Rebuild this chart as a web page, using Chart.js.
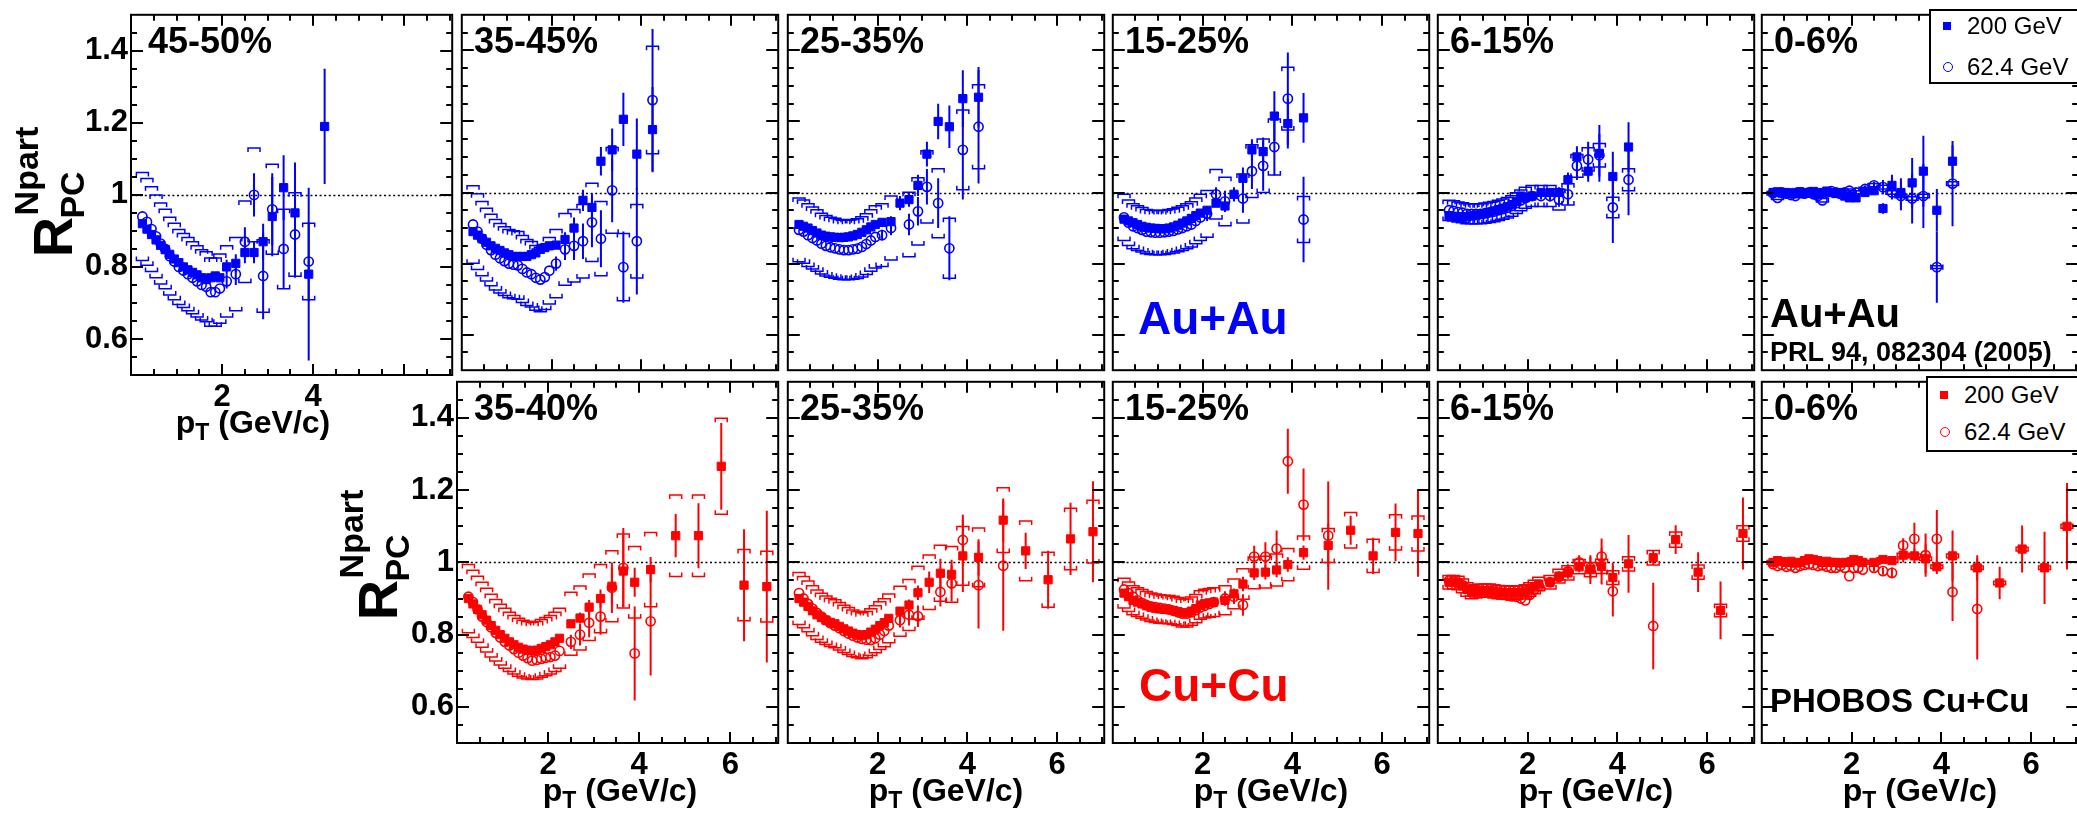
<!DOCTYPE html>
<html>
<head>
<meta charset="utf-8">
<title>PHOBOS R_PC Npart</title>
<script src="https://cdn.jsdelivr.net/npm/chart.js@4.4.0/dist/chart.umd.min.js"></script>
<style>
  body { margin: 0; width: 2077px; height: 817px; overflow: hidden; position: relative; background: #fff;
         font-family: "Liberation Sans", Arial, Helvetica, sans-serif; }
  canvas { position: absolute; }
  .txt { position: absolute; font-weight: bold; line-height: 1; white-space: nowrap; transform: translateY(-50%); }
  .ctr { position: absolute; font-weight: bold; line-height: 1; white-space: nowrap; transform: translate(-50%, -50%); }
  .rot { position: absolute; font-weight: bold; line-height: 1; white-space: nowrap; transform: translate(-50%, -50%) rotate(-90deg); }
  .ctr sub { font-size: 0.72em; vertical-align: -0.32em; line-height: 0; }
  .legend { position: absolute; border: 2px solid #000; background: #fff; box-sizing: border-box; }
  .leg { position: absolute; font-size: 24px; line-height: 1; white-space: nowrap; transform: translateY(-50%); }
  .mk { position: absolute; box-sizing: border-box; transform: translate(-50%, -50%); }
</style>
</head>
<body>
<script>
// ---- data ----
const ptAu = [0.25, 0.35, 0.45, 0.55, 0.65, 0.75, 0.85, 0.95, 1.05, 1.15, 1.25, 1.35, 1.45, 1.55, 1.65, 1.75, 1.85, 1.95,
              2.1, 2.3, 2.5, 2.7, 2.9, 3.1, 3.35, 3.6, 3.9, 4.25];
const ptCu = [0.25, 0.35, 0.45, 0.55, 0.65, 0.75, 0.85, 0.95, 1.05, 1.15, 1.25, 1.35, 1.45, 1.55, 1.65, 1.75, 1.85, 1.95, 2.05, 2.15, 2.25,
              2.5, 2.7, 2.9, 3.15, 3.4, 3.65, 3.9, 4.25, 4.8, 5.3, 5.8, 6.3, 6.8];
const auStatFrom = 18;   // stat. errors are listed from this pT bin on
const cuStatFrom = 21;

const centAu = ['45-50%', '35-45%', '25-35%', '15-25%', '6-15%', '0-6%'];
const centCu = ['35-40%', '25-35%', '15-25%', '6-15%', '0-6%'];
const energies = ['200 GeV', '62.4 GeV'];
const yTickVals = [0.6, 0.8, 1, 1.2, 1.4];
const xTickVals = [2, 4, 6];
const xTickValsCorner = [2, 4];

// systematic (bracket) fractions
const sysAu62 = [0.13, 0.12, 0.10, 0.07, 0.03, 0.005];
const sysCu200 = [0.105, 0.08, 0.045, 0.02, 0.005];

// Au+Au 200 GeV
const au200_4550 = [0.92, 0.905, 0.89, 0.875, 0.86, 0.848, 0.835, 0.822, 0.812, 0.80, 0.792, 0.785, 0.778, 0.77, 0.765, 0.77, 0.775, 0.77,
                    0.80, 0.81, 0.84, 0.84, 0.87, 0.94, 1.02, 0.95, 0.78, 1.19];
const au200_3545 = [0.89, 0.88, 0.87, 0.86, 0.85, 0.843, 0.837, 0.83, 0.825, 0.82, 0.82, 0.82, 0.82, 0.825, 0.83, 0.84, 0.845, 0.85,
                    0.852, 0.868, 0.90, 0.978, 0.958, 1.088, 1.12, 1.206, 1.108, 1.177];
const au200_2535 = [0.91, 0.905, 0.90, 0.893, 0.886, 0.88, 0.877, 0.875, 0.874, 0.873, 0.874, 0.875, 0.878, 0.882, 0.888, 0.895, 0.903, 0.91,
                    0.916, 0.918, 0.97, 0.98, 1.02, 1.108, 1.2, 1.185, 1.264, 1.268];
const au200_1525 = [0.925, 0.92, 0.915, 0.91, 0.905, 0.902, 0.90, 0.899, 0.898, 0.898, 0.90, 0.903, 0.908, 0.914, 0.92, 0.927, 0.935, 0.942,
                    0.95, 0.97, 0.962, 0.995, 1.04, 1.12, 1.115, 1.215, 1.194, 1.21];
const au200_0615 = [0.935, 0.933, 0.932, 0.93, 0.932, 0.934, 0.936, 0.938, 0.94, 0.944, 0.948, 0.952, 0.956, 0.96, 0.966, 0.975, 0.99, 0.985,
                    0.99, 1.0, 1.0, 1.0, 1.036, 1.1, 1.06, 1.11, 1.045, 1.128];
const au200_0006 = [1.0, 1.002, 0.998, 1.0, 0.997, 1.0, 1.002, 0.998, 1.0, 1.003, 0.998, 1.0, 1.004, 1.0, 0.997, 1.0, 0.99, 0.985,
                    0.985, 1.0, 1.005, 0.955, 1.02, 1.0, 1.027, 1.06, 0.95, 1.088];
const au200Err_4550 = [0.02, 0.025, 0.03, 0.03, 0.05, 0.11, 0.09, 0.14, 0.24, 0.16];
const au200Err_3545 = [0.01, 0.02, 0.03, 0.03, 0.04, 0.04, 0.06, 0.075, 0.1, 0.12];
const au200Err_2535 = [0.01, 0.015, 0.02, 0.02, 0.03, 0.035, 0.05, 0.06, 0.08, 0.085];
const au200Err_1525 = [0.01, 0.01, 0.015, 0.02, 0.03, 0.03, 0.04, 0.07, 0.07, 0.07];
const au200Err_0615 = [0.01, 0.01, 0.01, 0.015, 0.02, 0.03, 0.03, 0.08, 0.07, 0.07];
const au200Err_0006 = [0.005, 0.005, 0.01, 0.015, 0.03, 0.04, 0.07, 0.1, 0.06, 0.045];

// Au+Au 62.4 GeV
const au62_4550 = [0.94, 0.925, 0.905, 0.885, 0.865, 0.85, 0.83, 0.815, 0.80, 0.79, 0.78, 0.77, 0.76, 0.75, 0.745, 0.73, 0.73, 0.74,
                   0.76, 0.78, 0.87, 1.0, 0.775, 0.96, 0.85, 0.89, 0.815, null];
const au62_3545 = [0.91, 0.89, 0.87, 0.853, 0.838, 0.825, 0.815, 0.807, 0.80, 0.797, 0.795, 0.785, 0.775, 0.77, 0.76, 0.755, 0.762, 0.78,
                   0.80, 0.84, 0.85, 0.863, 0.916, 0.87, 1.006, 0.79, 0.863, 1.26];
const au62_2535 = [0.895, 0.89, 0.88, 0.872, 0.865, 0.856, 0.85, 0.846, 0.843, 0.84, 0.838, 0.838, 0.84, 0.842, 0.847, 0.855, 0.865, 0.875,
                   0.88, 0.90, null, 0.91, 0.947, 1.016, 0.97, 0.843, 1.12, 1.185];
const au62_1525 = [0.93, 0.915, 0.905, 0.90, 0.895, 0.89, 0.888, 0.887, 0.887, 0.888, 0.89, 0.892, 0.896, 0.90, 0.905, 0.91, 0.92, 0.93,
                   0.94, 0.995, 0.975, null, 0.983, 1.06, 1.075, 1.128, 1.264, 0.924];
const au62_0615 = [0.95, 0.948, 0.945, 0.943, 0.94, 0.94, 0.94, 0.94, 0.942, 0.944, 0.946, 0.95, 0.953, 0.957, 0.962, 0.97, 0.978, 0.985,
                   0.99, 0.99, 0.99, 0.98, 0.995, 1.075, 1.093, 1.105, 0.958, 1.036];
const au62_0006 = [0.998, 0.985, 1.0, 0.997, 0.993, 0.99, 1.0, 0.997, 1.0, 0.995, 0.99, 0.978, 1.0, 1.004, 1.0, 0.996, 1.0, 1.005,
                   1.0, 1.01, 1.02, 1.015, 1.0, 0.99, 0.983, 0.99, 0.79, 1.025];
const au62Err_4550 = [0.02, 0.03, 0.04, 0.06, 0.12, 0.1, 0.11, 0.12, 0.11, 0];
const au62Err_3545 = [0.02, 0.03, 0.04, 0.05, 0.07, 0.08, 0.09, 0.1, 0.15, 0.2];
const au62Err_2535 = [0.015, 0.02, 0, 0.03, 0.04, 0.05, 0.07, 0.09, 0.14, 0.16];
const au62Err_1525 = [0.02, 0.02, 0.03, 0, 0.04, 0.05, 0.07, 0.08, 0.13, 0.12];
const au62Err_0615 = [0.01, 0.01, 0.015, 0.02, 0.03, 0.04, 0.05, 0.06, 0.1, 0.1];
const au62Err_0006 = [0.005, 0.01, 0.01, 0.02, 0.02, 0.04, 0.07, 0.09, 0.1, 0.12];

// Cu+Cu 200 GeV
const cu200_3540 = [0.9, 0.885, 0.87, 0.855, 0.84, 0.825, 0.812, 0.8, 0.79, 0.78, 0.772, 0.765, 0.76, 0.757, 0.755, 0.757, 0.762, 0.767, 0.772, 0.78, 0.79,
                    0.83, 0.846, 0.876, 0.9, 0.934, 0.976, 0.945, 0.98, 1.074, 1.074, 1.266, 0.937, 0.933];
const cu200_2535 = [0.9, 0.89, 0.878, 0.866, 0.855, 0.847, 0.84, 0.834, 0.83, 0.823, 0.816, 0.81, 0.804, 0.8, 0.797, 0.8, 0.807, 0.815, 0.825, 0.833, 0.845,
                    0.865, 0.882, 0.916, 0.945, 0.97, 0.967, 1.018, 1.014, 1.117, 1.032, 0.952, 1.065, 1.085];
const cu200_1525 = [0.915, 0.905, 0.895, 0.89, 0.885, 0.88, 0.876, 0.873, 0.871, 0.87, 0.869, 0.867, 0.864, 0.86, 0.86, 0.865, 0.872, 0.882, 0.886, 0.888, 0.89,
                    0.895, 0.913, 0.94, 0.971, 0.973, 0.979, 0.994, 1.027, 1.047, 1.089, 1.018, 1.083, 1.08];
const cu200_0615 = [0.945, 0.945, 0.943, 0.935, 0.925, 0.918, 0.92, 0.922, 0.922, 0.922, 0.92, 0.918, 0.917, 0.916, 0.916, 0.916, 0.917, 0.92, 0.925, 0.932, 0.94,
                    0.945, 0.962, 0.971, 0.988, 0.98, 0.989, 0.958, 0.996, 1.013, 1.063, 0.973, 0.867, 1.08];
const cu200_0006 = [1.0, 1.005, 1.002, 1.0, 1.003, 0.998, 1.0, 1.005, 1.01, 1.008, 1.005, 1.0, 1.003, 1.0, 1.0, 0.998, 1.0, 1.0, 1.008, 1.005, 1.0,
                    1.0, 1.008, 1.005, 1.02, 1.018, 1.01, 0.988, 1.018, 0.985, 0.943, 1.037, 0.985, 1.1];
const cu200Err_3540 = [0.01, 0.015, 0.02, 0.025, 0.05, 0.1, 0.04, 0.035, 0.06, 0.09, 0.12, 0.155, 0.21];
const cu200Err_2535 = [0.01, 0.015, 0.02, 0.03, 0.04, 0.04, 0.1, 0.05, 0.06, 0.05, 0.08, 0.1, 0.14];
const cu200Err_1525 = [0.01, 0.015, 0.02, 0.02, 0.02, 0.02, 0.02, 0.02, 0.06, 0.04, 0.05, 0.08, 0.12];
const cu200Err_0615 = [0.005, 0.01, 0.01, 0.015, 0.04, 0.05, 0.04, 0.08, 0.02, 0.04, 0.055, 0.08, 0.1];
const cu200Err_0006 = [0.005, 0.005, 0.01, 0.02, 0.02, 0.04, 0.02, 0.07, 0.035, 0.045, 0.065, 0.1, 0.12];

// Cu+Cu 62.4 GeV
const cu62_3540 = [0.905, 0.89, 0.87, 0.85, 0.835, 0.82, 0.805, 0.792, 0.78, 0.77, 0.76, 0.75, 0.742, 0.735, 0.728, 0.73, 0.733, 0.736, 0.738, 0.742, 0.755,
                   0.78, 0.8, 0.833, 0.85, 0.93, 0.985, 0.748, 0.837, null, null, null, null, null];
const cu62_2535 = [0.915, 0.9, 0.885, 0.872, 0.86, 0.85, 0.84, 0.832, 0.825, 0.818, 0.81, 0.803, 0.797, 0.792, 0.788, 0.786, 0.785, 0.79, 0.8, 0.81, 0.825,
                   0.84, 0.855, 0.851, null, 0.918, 0.942, 1.062, 0.937, 0.991, null, null, null, null];
const cu62_1525 = [0.925, 0.915, 0.905, 0.895, 0.888, 0.882, 0.878, 0.876, 0.874, 0.872, 0.87, 0.866, 0.862, 0.858, 0.858, 0.862, 0.868, 0.875, 0.88, 0.885, 0.89,
                   0.9, 0.905, 0.882, 1.016, 1.016, 1.038, 1.28, 1.16, 1.074, null, null, null, null];
const cu62_0615 = [0.95, 0.948, 0.944, 0.937, 0.928, 0.922, 0.92, 0.92, 0.92, 0.918, 0.915, 0.912, 0.91, 0.908, 0.906, 0.905, 0.9, 0.895, 0.91, 0.925, 0.935,
                   0.945, 0.96, 0.975, 1.0, 0.985, 1.016, 0.92, null, 0.824, null, null, null, null];
const cu62_0006 = [0.995, 0.99, 0.993, 0.988, 0.99, 0.985, 0.99, 0.993, 0.995, 0.993, 0.99, 0.992, 0.988, 0.985, 0.985, 0.99, 0.985, 0.962, 0.985, 0.985, 0.98,
                   0.985, 0.976, 0.971, 1.047, 1.065, 1.02, 1.065, 0.918, 0.871, null, null, null, null];
const cu62Err_3540 = [0.02, 0.03, 0.04, 0.05, 0.07, 0.11, 0.13, 0.15, 0, 0, 0, 0, 0];
const cu62Err_2535 = [0.02, 0.03, 0.03, 0, 0.04, 0.05, 0.07, 0.12, 0.18, 0, 0, 0, 0];
const cu62Err_1525 = [0.02, 0.02, 0.03, 0.03, 0.04, 0.05, 0.09, 0.1, 0.15, 0, 0, 0, 0];
const cu62Err_0615 = [0.01, 0.015, 0.02, 0.02, 0.03, 0.05, 0.07, 0, 0.12, 0, 0, 0, 0];
const cu62Err_0006 = [0.01, 0.01, 0.015, 0.02, 0.045, 0.06, 0.08, 0.08, 0.14, 0, 0, 0, 0];

// ---- layout ----
const BLUE = '#0000ff';
const RED = '#ff0000';
const FONT = '"Liberation Sans", Arial, Helvetica, sans-serif';
const auLeft = [131, 457, 783, 1108, 1433, 1757];
const cuLeft = [457, 783, 1108, 1433, 1757];
const auSeries = [
  [au200_4550, au200Err_4550, au62_4550, au62Err_4550],
  [au200_3545, au200Err_3545, au62_3545, au62Err_3545],
  [au200_2535, au200Err_2535, au62_2535, au62Err_2535],
  [au200_1525, au200Err_1525, au62_1525, au62Err_1525],
  [au200_0615, au200Err_0615, au62_0615, au62Err_0615],
  [au200_0006, au200Err_0006, au62_0006, au62Err_0006]
];
const cuSeries = [
  [cu200_3540, cu200Err_3540, cu62_3540, cu62Err_3540],
  [cu200_2535, cu200Err_2535, cu62_2535, cu62Err_2535],
  [cu200_1525, cu200Err_1525, cu62_1525, cu62Err_1525],
  [cu200_0615, cu200Err_0615, cu62_0615, cu62Err_0615],
  [cu200_0006, cu200Err_0006, cu62_0006, cu62Err_0006]
];

function toPoints(pt, vals) {
  const out = [];
  vals.forEach((v, i) => { if (v !== null) out.push({ x: pt[i], y: v }); });
  return out;
}

// error bars, brackets, unity line, frame with ROOT style ticks
function decor(p) {
  return {
    id: 'decor',
    beforeDatasetsDraw(chart) {
      const { ctx, chartArea: a, scales: { x, y } } = chart;
      ctx.save();
      ctx.beginPath();
      ctx.rect(a.left, a.top, a.right - a.left, a.bottom - a.top);
      ctx.clip();
      const y1 = Math.round(y.getPixelForValue(1)) + 0.5;
      ctx.strokeStyle = '#000';
      ctx.lineWidth = 1.6;
      ctx.setLineDash([2, 2.6]);
      ctx.beginPath();
      ctx.moveTo(a.left, y1);
      ctx.lineTo(a.right, y1);
      ctx.stroke();
      ctx.setLineDash([]);
      ctx.strokeStyle = p.color;
      p.series.forEach(s => {
        if (s.sys > 0) {
          ctx.lineWidth = 1.5;
          s.vals.forEach((v, i) => {
            if (v === null) return;
            const px = x.getPixelForValue(p.pt[i]);
            const hi = y.getPixelForValue(v * (1 + s.sys));
            const lo = y.getPixelForValue(v * (1 - s.sys));
            ctx.beginPath();
            ctx.moveTo(px - 6, hi + 4); ctx.lineTo(px - 6, hi); ctx.lineTo(px + 6, hi); ctx.lineTo(px + 6, hi + 4);
            ctx.moveTo(px - 6, lo - 4); ctx.lineTo(px - 6, lo); ctx.lineTo(px + 6, lo); ctx.lineTo(px + 6, lo - 4);
            ctx.stroke();
          });
        }
        ctx.lineWidth = 2;
        s.err.forEach((e, j) => {
          const i = p.statFrom + j;
          const v = s.vals[i];
          if (v === null || !e) return;
          const px = x.getPixelForValue(p.pt[i]);
          ctx.beginPath();
          ctx.moveTo(px, y.getPixelForValue(v + e));
          ctx.lineTo(px, y.getPixelForValue(v - e));
          ctx.stroke();
        });
      });
      ctx.restore();
    },
    afterDraw(chart) {
      const { ctx, chartArea: a, scales: { x, y } } = chart;
      ctx.save();
      ctx.strokeStyle = '#000';
      ctx.lineWidth = 2;
      ctx.strokeRect(a.left, a.top, a.right - a.left, a.bottom - a.top);
      ctx.beginPath();
      for (let k = 1; k <= 14; k++) {
        const v = k * 0.5;
        if (v > x.max) break;
        const len = k % 4 === 0 ? 11 : 6;
        const px = Math.round(x.getPixelForValue(v));
        ctx.moveTo(px, a.bottom); ctx.lineTo(px, a.bottom - len);
        ctx.moveTo(px, a.top); ctx.lineTo(px, a.top + len);
      }
      for (let k = 11; k <= 29; k++) {
        const len = k % 4 === 0 ? 12 : 6;
        const py = Math.round(y.getPixelForValue(k * 0.05));
        ctx.moveTo(a.left, py); ctx.lineTo(a.left + len, py);
        ctx.moveTo(a.right, py); ctx.lineTo(a.right - len, py);
      }
      ctx.stroke();
      ctx.restore();
    }
  };
}

function makePanel(p) {
  const padL = p.yLabels ? 74 : 2;
  const padB = p.xTicks ? 47 : 2;
  const cv = document.createElement('canvas');
  cv.width = p.w + padL + 2;
  cv.height = p.h + 2 + padB;
  cv.style.left = (p.left - padL) + 'px';
  cv.style.top = (p.top - 2) + 'px';
  document.body.appendChild(cv);

  const tickFont = { family: FONT, size: 31, weight: 'bold' };
  new Chart(cv, {
    type: 'scatter',
    data: {
      datasets: [
        { label: energies[1], data: toPoints(p.pt, p.series[1].vals), pointStyle: 'circle', pointRadius: 4.6,
          backgroundColor: 'rgba(0,0,0,0)', borderColor: p.color, borderWidth: 1.6 },
        { label: energies[0], data: toPoints(p.pt, p.series[0].vals), pointStyle: 'rect', pointRadius: 5.8,
          backgroundColor: p.color, borderColor: p.color, borderWidth: 1 }
      ]
    },
    options: {
      responsive: false,
      animation: false,
      devicePixelRatio: 1,
      layout: { padding: { left: 2, right: 2, top: 2, bottom: 2 } },
      plugins: { legend: { display: false }, tooltip: { enabled: false } },
      scales: {
        x: {
          type: 'linear', min: 0, max: 7.05, display: !!p.xTicks,
          grid: { display: false, drawTicks: false }, border: { display: false },
          ticks: { autoSkip: false, maxRotation: 0, padding: 4, color: '#000', font: tickFont, callback: v => String(v) },
          afterBuildTicks: s => { if (p.xTicks) s.ticks = p.xTicks.map(v => ({ value: v })); },
          afterFit: s => {
            if (!p.xTicks) return;
            s.height = 45;
            s.paddingLeft = 0; s.paddingRight = 0; s.paddingTop = 0; s.paddingBottom = 0;
          }
        },
        y: {
          type: 'linear', min: 0.5, max: 1.5, display: !!p.yLabels,
          grid: { display: false, drawTicks: false }, border: { display: false },
          ticks: { autoSkip: false, padding: 3, color: '#000', font: tickFont, callback: v => String(v) },
          afterBuildTicks: s => { if (p.yLabels) s.ticks = yTickVals.map(v => ({ value: v })); },
          afterFit: s => {
            if (!p.yLabels) return;
            s.width = 72;
            s.paddingLeft = 0; s.paddingRight = 0; s.paddingTop = 0; s.paddingBottom = 0;
          }
        }
      }
    },
    plugins: [decor(p)]
  });
}

function addDiv(cls, html, left, top, css) {
  const d = document.createElement('div');
  d.className = cls;
  d.innerHTML = html;
  d.style.left = left + 'px';
  d.style.top = top + 'px';
  if (css) d.style.cssText += css;
  document.body.appendChild(d);
  return d;
}

// Au+Au row
centAu.forEach((c, i) => {
  const s = auSeries[i];
  makePanel({
    left: auLeft[i], top: 10, w: 326, h: 365, pt: ptAu, statFrom: auStatFrom, color: BLUE,
    yLabels: i === 0, xTicks: i === 0 ? xTickValsCorner : null,
    series: [{ vals: s[0], err: s[1], sys: 0 }, { vals: s[2], err: s[3], sys: sysAu62[i] }]
  });
  addDiv('txt', c, auLeft[i] + 17, 41, 'font-size:36px;');
});

// Cu+Cu row
centCu.forEach((c, i) => {
  const s = cuSeries[i];
  makePanel({
    left: cuLeft[i], top: 377, w: 326, h: 366, pt: ptCu, statFrom: cuStatFrom, color: RED,
    yLabels: i === 0, xTicks: xTickVals,
    series: [{ vals: s[0], err: s[1], sys: sysCu200[i] }, { vals: s[2], err: s[3], sys: 0 }]
  });
  addDiv('txt', c, cuLeft[i] + 17, 408, 'font-size:36px;');
  addDiv('ctr', 'p<sub>T</sub> (GeV/c)', cuLeft[i] + 163, 790, 'font-size:32px;');
});

// corner panel x title
addDiv('ctr', 'p<sub>T</sub> (GeV/c)', 253, 422, 'font-size:32px;');

// y titles
[[53, 237], [378, 600]].forEach(([cx, cy]) => {
  addDiv('rot', 'R', cx, cy, 'font-size:56px;');
  addDiv('rot', 'Npart', cx - 27, cy - 66, 'font-size:34px;');
  addDiv('rot', 'PC', cx + 19, cy - 42, 'font-size:34px;');
});

// annotations
addDiv('txt', 'Au+Au', 1138, 318, 'font-size:46px;color:' + BLUE + ';');
addDiv('txt', 'Cu+Cu', 1139, 685, 'font-size:46px;color:' + RED + ';');
addDiv('txt', 'Au+Au', 1770, 313, 'font-size:40px;');
addDiv('txt', 'PRL 94, 082304 (2005)', 1770, 352, 'font-size:27px;');
addDiv('txt', 'PHOBOS Cu+Cu', 1770, 700, 'font-size:33px;');

// legends
function legend(left, top, height, color, y1, y2) {
  addDiv('legend', '', left, top, 'width:170px;height:' + height + 'px;');
  addDiv('mk', '', left + 18, y1, 'width:8px;height:8px;background:' + color + ';');
  addDiv('mk', '', left + 19, y2, 'width:10px;height:10px;border:1.6px solid ' + color + ';border-radius:50%;');
  addDiv('leg', energies[0], left + 38, y1);
  addDiv('leg', energies[1], left + 38, y2);
}
legend(1929, 9, 75, BLUE, 26, 67);
legend(1926, 376, 76, RED, 395, 432);
</script>
</body>
</html>
